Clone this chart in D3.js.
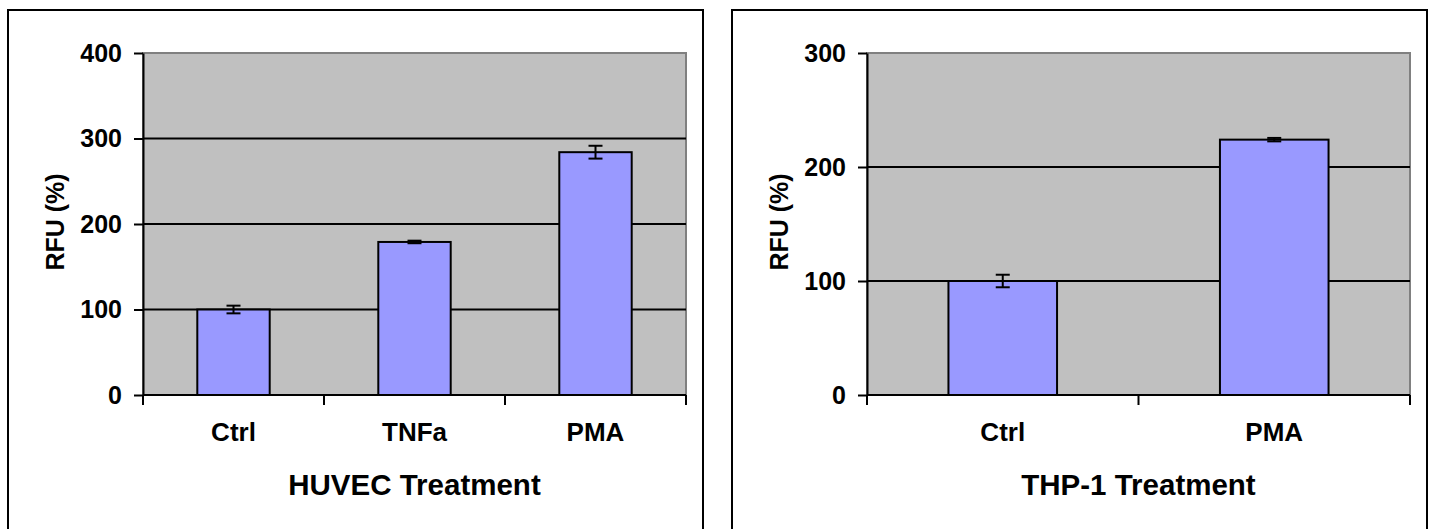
<!DOCTYPE html>
<html>
<head>
<meta charset="utf-8">
<script src="https://cdn.jsdelivr.net/npm/d3@7"></script>
<style>
  body { margin: 0; background: #fff; }
  text { font-family: 'Liberation Sans', Arial, sans-serif; font-weight: bold; }
</style>
</head>
<body>
<div id="chart"></div>
<script>
const huvecCategories = ['Ctrl', 'TNFa', 'PMA']
const huvecValues = [100, 179, 284]
const huvecErrors = [4.5, 1.5, 7.5]
const huvecTicks = [0, 100, 200, 300, 400]

const thp1Categories = ['Ctrl', 'PMA']
const thp1Values = [100, 224]
const thp1Errors = [5.5, 1.5]
const thp1Ticks = [0, 100, 200, 300]

const charts = [
  { offset: 0, title: 'HUVEC Treatment', cats: huvecCategories, vals: huvecValues, errs: huvecErrors, ticks: huvecTicks },
  { offset: 724, title: 'THP-1 Treatment', cats: thp1Categories, vals: thp1Values, errs: thp1Errors, ticks: thp1Ticks }
]

const svg = d3.select('#chart').append('svg')
  .attr('width', 1430)
  .attr('height', 529)

const margin = { top: 53, left: 143, right: 686, bottom: 395 }

charts.forEach(c => {
  const g = svg.append('g').attr('transform', `translate(${c.offset},0)`)

  // outer frame
  g.append('rect')
    .attr('x', 8).attr('y', 10)
    .attr('width', 695).attr('height', 540)
    .attr('fill', '#fff')
    .attr('stroke', '#000')
    .attr('stroke-width', 2)

  const x = d3.scaleBand()
    .domain(c.cats)
    .range([margin.left, margin.right])
    .padding(0)

  const y = d3.scaleLinear()
    .domain([0, d3.max(c.ticks)])
    .range([margin.bottom, margin.top])

  // plot area
  g.append('rect')
    .attr('x', margin.left).attr('y', margin.top)
    .attr('width', margin.right - margin.left)
    .attr('height', margin.bottom - margin.top)
    .attr('fill', '#c0c0c0')
    .attr('stroke', '#808080')
    .attr('stroke-width', 2)

  // gridlines
  g.append('g')
    .selectAll('line')
    .data(c.ticks.filter(t => t > 0 && t < d3.max(c.ticks)))
    .join('line')
    .attr('x1', margin.left).attr('x2', margin.right)
    .attr('y1', d => y(d)).attr('y2', d => y(d))
    .attr('stroke', '#000')
    .attr('stroke-width', 2)

  // bars
  const bw = x.bandwidth() * 0.4
  g.append('g')
    .selectAll('rect')
    .data(c.vals)
    .join('rect')
    .attr('x', (d, i) => x(c.cats[i]) + (x.bandwidth() - bw) / 2)
    .attr('y', d => y(d))
    .attr('width', bw)
    .attr('height', d => y(0) - y(d))
    .attr('fill', '#9999ff')
    .attr('stroke', '#000')
    .attr('stroke-width', 2)

  // error bars
  const eb = g.append('g').selectAll('g')
    .data(c.vals)
    .join('g')
    .attr('stroke', '#000')
    .attr('stroke-width', 2)
  eb.append('line')
    .attr('x1', (d, i) => x(c.cats[i]) + x.bandwidth() / 2)
    .attr('x2', (d, i) => x(c.cats[i]) + x.bandwidth() / 2)
    .attr('y1', (d, i) => y(d + c.errs[i]))
    .attr('y2', (d, i) => y(d - c.errs[i]))
  ;[1, -1].forEach(s => {
    eb.append('line')
      .attr('x1', (d, i) => x(c.cats[i]) + x.bandwidth() / 2 - 7)
      .attr('x2', (d, i) => x(c.cats[i]) + x.bandwidth() / 2 + 7)
      .attr('y1', (d, i) => y(d + s * c.errs[i]))
      .attr('y2', (d, i) => y(d + s * c.errs[i]))
  })

  // y axis
  const yAxis = g.append('g')
    .attr('transform', `translate(${margin.left},0)`)
    .call(d3.axisLeft(y).tickValues(c.ticks).tickSize(9).tickPadding(12).tickSizeOuter(0))
  yAxis.selectAll('line, path').attr('stroke', '#000').attr('stroke-width', 2)
  yAxis.selectAll('text').attr('font-size', 25).attr('fill', '#000')
    .style('font-family', "'Liberation Sans', Arial, sans-serif")
    .style('font-weight', 'bold')

  // x axis: ticks between categories
  const xAxis = g.append('g')
  xAxis.append('line')
    .attr('x1', margin.left).attr('x2', margin.right)
    .attr('y1', margin.bottom).attr('y2', margin.bottom)
    .attr('stroke', '#000').attr('stroke-width', 2)
  const bounds = c.cats.map(d => x(d)).concat([margin.right])
  xAxis.selectAll('.tk')
    .data(bounds)
    .join('line')
    .attr('class', 'tk')
    .attr('x1', d => d).attr('x2', d => d)
    .attr('y1', margin.bottom).attr('y2', margin.bottom + 10)
    .attr('stroke', '#000').attr('stroke-width', 2)
  xAxis.selectAll('.lbl')
    .data(c.cats)
    .join('text')
    .attr('class', 'lbl')
    .attr('x', d => x(d) + x.bandwidth() / 2)
    .attr('y', 432)
    .attr('dy', '0.35em')
    .attr('text-anchor', 'middle')
    .attr('font-size', 26)
    .text(d => d)

  // titles
  g.append('text')
    .attr('x', (margin.left + margin.right) / 2)
    .attr('y', 485)
    .attr('dy', '0.35em')
    .attr('text-anchor', 'middle')
    .attr('font-size', 29.5)
    .text(c.title)

  g.append('text')
    .attr('transform', `translate(55,${(margin.top + margin.bottom) / 2 - 2}) rotate(-90)`)
    .attr('dy', '0.35em')
    .attr('text-anchor', 'middle')
    .attr('font-size', 25)
    .text('RFU (%)')
})
</script>
</body>
</html>
